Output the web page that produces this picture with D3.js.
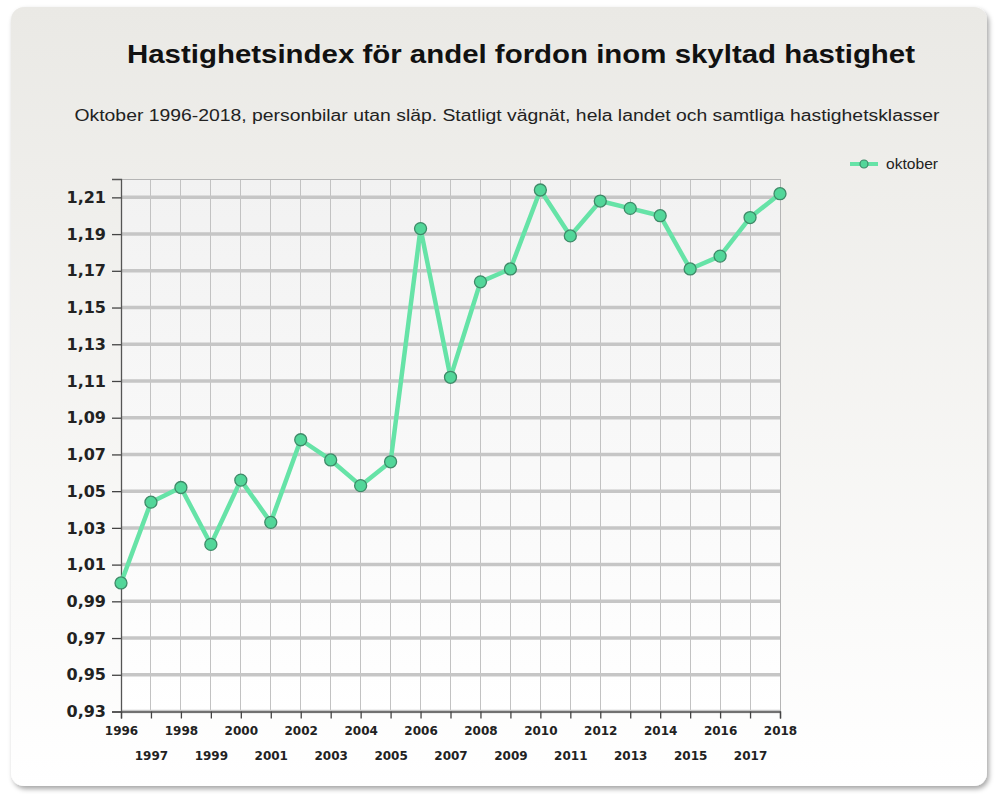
<!DOCTYPE html>
<html>
<head>
<meta charset="utf-8">
<script src="https://cdn.jsdelivr.net/npm/d3@7"></script>
<style>
  html, body { margin: 0; padding: 0; background: #ffffff; }
  svg { display: block; }
</style>
</head>
<body>
<svg id="chart" width="995" height="794"></svg>
<script>
// ---- data ----
const years = [1996,1997,1998,1999,2000,2001,2002,2003,2004,2005,2006,2007,2008,2009,2010,2011,2012,2013,2014,2015,2016,2017,2018];
const oktober = [1.000,1.044,1.052,1.021,1.056,1.033,1.078,1.067,1.053,1.066,1.193,1.112,1.164,1.171,1.214,1.189,1.208,1.204,1.200,1.171,1.178,1.199,1.212];
const yTicks = [0.93,0.95,0.97,0.99,1.01,1.03,1.05,1.07,1.09,1.11,1.13,1.15,1.17,1.19,1.21];
const seriesName = "oktober";
const titleText = "Hastighetsindex för andel fordon inom skyltad hastighet";
const subtitleText = "Oktober 1996-2018, personbilar utan släp. Statligt vägnät, hela landet och samtliga hastighetsklasser";

// ---- layout ----
const W = 995, H = 794;
const plot = {left: 121, right: 780, top: 179, bottom: 711.5};
const svg = d3.select("#chart");
const defs = svg.append("defs");

const cardGrad = defs.append("linearGradient").attr("id","cardGrad").attr("x1",0).attr("y1",0).attr("x2",0).attr("y2",1);
cardGrad.append("stop").attr("offset","0%").attr("stop-color","#eae9e5");
cardGrad.append("stop").attr("offset","100%").attr("stop-color","#ffffff");

const plotGrad = defs.append("linearGradient").attr("id","plotGrad").attr("x1",0).attr("y1",0).attr("x2",0).attr("y2",1);
plotGrad.append("stop").attr("offset","0%").attr("stop-color","#f2f2f2");
plotGrad.append("stop").attr("offset","100%").attr("stop-color","#ffffff");

const shadow = defs.append("filter").attr("id","shadow").attr("x","-5%").attr("y","-5%").attr("width","110%").attr("height","110%");
shadow.append("feDropShadow").attr("dx",2).attr("dy",3).attr("stdDeviation",2.5).attr("flood-color","#000").attr("flood-opacity",0.35);

// card
svg.append("rect").attr("x",11).attr("y",7).attr("width",976).attr("height",779)
  .attr("rx",13).attr("ry",13).attr("fill","url(#cardGrad)").attr("filter","url(#shadow)");

// scales
const x = d3.scaleLinear().domain([years[0], years[years.length-1]]).range([plot.left, plot.right]);
const y = d3.scaleLinear().domain([0.93, 1.22]).range([plot.bottom, plot.top]);

// plot background
svg.append("rect").attr("x",plot.left).attr("y",plot.top)
  .attr("width",plot.right-plot.left).attr("height",plot.bottom-plot.top)
  .attr("fill","url(#plotGrad)");

// vertical grid
svg.append("g").selectAll("line").data(years).join("line")
  .attr("x1",d=>x(d)).attr("x2",d=>x(d)).attr("y1",plot.top).attr("y2",plot.bottom)
  .attr("stroke","#c2c2c2").attr("stroke-width",1).attr("shape-rendering","crispEdges");

// horizontal grid
svg.append("g").selectAll("line").data(yTicks).join("line")
  .attr("x1",plot.left).attr("x2",plot.right).attr("y1",d=>y(d)).attr("y2",d=>y(d))
  .attr("stroke","#c6c6c6").attr("stroke-width",3.5);

// top and right frame
svg.append("path")
  .attr("d",`M${plot.left},${plot.top}H${plot.right}V${plot.bottom}`)
  .attr("fill","none").attr("stroke","#b5b5b5").attr("stroke-width",1).attr("shape-rendering","crispEdges");

// y axis
const fmt = d => d3.format(".2f")(d).replace(".", ",");
const yAxis = svg.append("g").attr("transform",`translate(${plot.left},0)`)
  .call(d3.axisLeft(y).tickValues(yTicks).tickFormat(fmt).tickSize(9).tickPadding(6));
yAxis.select(".domain").attr("stroke","#555").attr("stroke-width",1.3);
yAxis.selectAll(".tick line").attr("stroke","#444").attr("stroke-width",1.3);
yAxis.selectAll(".tick text")
  .attr("font-family","DejaVu Sans, Verdana, sans-serif").attr("font-weight","bold")
  .attr("font-size",16).attr("fill","#222");

// x axis
const xAxis = svg.append("g").attr("transform",`translate(0,${plot.bottom})`)
  .call(d3.axisBottom(x).tickValues(years).tickFormat(d3.format("d")).tickSize(7).tickPadding(8));
xAxis.select(".domain").attr("stroke","#555").attr("stroke-width",1.3);
xAxis.selectAll(".tick line").attr("stroke","#444").attr("stroke-width",1.3);
xAxis.selectAll(".tick text")
  .attr("font-family","DejaVu Sans, Verdana, sans-serif").attr("font-weight","bold")
  .attr("font-size",12).attr("fill","#222")
  .attr("dy",(d,i)=> i%2===0 ? "0.71em" : "2.8em");

// line
const lineColor = "#66e3a7";
svg.append("path").datum(years.map((yr,i)=>[yr, oktober[i]]))
  .attr("d", d3.line().x(d=>x(d[0])).y(d=>y(d[1])))
  .attr("fill","none").attr("stroke",lineColor).attr("stroke-width",4.5)
  .attr("stroke-linejoin","round").attr("stroke-linecap","round");

// points
svg.append("g").selectAll("circle").data(years.map((yr,i)=>[yr, oktober[i]])).join("circle")
  .attr("cx",d=>x(d[0])).attr("cy",d=>y(d[1])).attr("r",6)
  .attr("fill","#52d699").attr("stroke","#3e8a68").attr("stroke-width",1.3);

// title
svg.append("text").attr("x",521).attr("y",63).attr("text-anchor","middle")
  .attr("font-family","Liberation Sans, Arial, sans-serif").attr("font-weight","bold")
  .attr("font-size",25).attr("fill","#111")
  .attr("textLength",788).attr("lengthAdjust","spacingAndGlyphs")
  .text(titleText);

svg.append("text").attr("x",507).attr("y",121).attr("text-anchor","middle")
  .attr("font-family","Liberation Sans, Arial, sans-serif")
  .attr("font-size",16).attr("fill","#222")
  .attr("textLength",865).attr("lengthAdjust","spacingAndGlyphs")
  .text(subtitleText);

// legend
const lg = svg.append("g");
lg.append("line").attr("x1",850).attr("x2",878).attr("y1",164).attr("y2",164)
  .attr("stroke",lineColor).attr("stroke-width",4);
lg.append("circle").attr("cx",864).attr("cy",164).attr("r",4)
  .attr("fill","#52d699").attr("stroke","#3e8a68").attr("stroke-width",1.2);
lg.append("text").attr("x",886).attr("y",169)
  .attr("font-family","Liberation Sans, Arial, sans-serif")
  .attr("font-size",14).attr("fill","#222")
  .attr("textLength",52).attr("lengthAdjust","spacingAndGlyphs")
  .text(seriesName);
</script>
</body>
</html>
